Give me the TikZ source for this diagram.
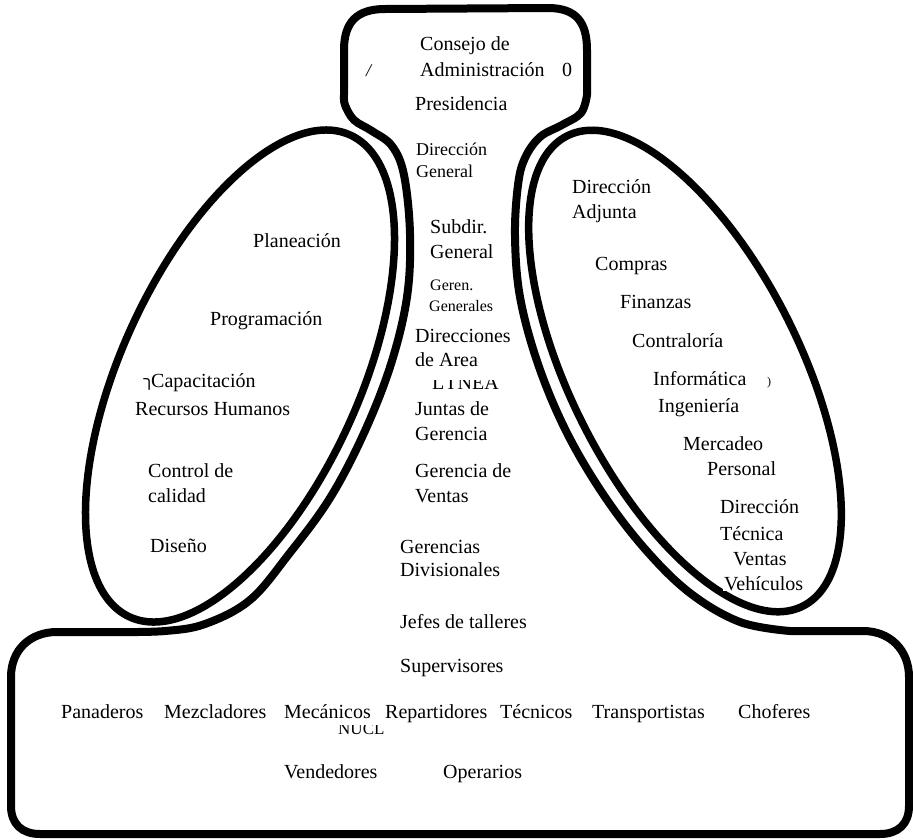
\documentclass[tikz,border=0pt]{standalone}
\usepackage{fontspec}
\setmainfont{Liberation Serif}
\newfontfamily\hebmark{Liberation Sans}
\begin{document}
\begin{tikzpicture}[x=1pt,y=1pt,
  outline/.style={line width=8pt, line join=round, line cap=round},
  lobe/.style={line width=7.5pt},
  lbl/.style={anchor=base west, inner sep=0pt, font=\fontsize{20}{24}\selectfont},
  lblm/.style={lbl, font=\fontsize{18}{22}\selectfont},
  lbls/.style={lbl, font=\fontsize{16}{19}\selectfont}]
\useasboundingbox (0,0) rectangle (913,-839);
\fill[white] (0,0) rectangle (913,-839);

% head + middle line + operating core
\draw[outline]
 (344,-95) -- (344,-50)
 .. controls (344,-22) and (357,-9) .. (385,-9)
 -- (548,-8)
 .. controls (576,-8) and (587,-22) .. (587,-50)
 -- (587,-95)
 -- plot[smooth, tension=0.6] coordinates {(587,-95) (581,-113) (562,-125) (540,-137) (525,-158) (518,-185) (515,-236) (520,-297) (538,-364) (566,-431) (603,-494) (645,-549) (690,-593) (740,-622) (790,-631)}
 -- (863,-631)
 .. controls (890,-631) and (909,-650) .. (909,-677)
 -- (909,-806)
 .. controls (909,-824) and (898,-834) .. (880,-834)
 -- (40,-834)
 .. controls (22,-834) and (11,-824) .. (11,-806)
 -- (11,-677)
 .. controls (11,-650) and (30,-632) .. (57,-632)
 -- (120,-632)
 -- plot[smooth, tension=0.6] coordinates {(120,-632) (165,-631) (205,-624) (250,-600) (289,-554) (330,-498) (364,-433) (391,-364) (407,-297) (410,-234) (404,-175) (392,-146) (372,-131) (354,-120) (345,-105) (344,-95)}
 -- cycle;

% support staff and technostructure
\draw[lobe, rotate around={65.4:(240,-376)}] (240,-376) ellipse [x radius=265, y radius=119];
\draw[lobe, rotate around={-63.4:(685,-371)}] (685,-371) ellipse [x radius=263, y radius=115];

% apex
\node[lbl] (consejo) at (420,-50) {Consejo de};
\node[lbl] (admin) at (420,-76) {Administración};
\node[lbl] (cero) at (562,-76) {0};
\node[lblm] (slash) at (366,-76) {\itshape /};
\node[lbl] (pres) at (415,-110) {Presidencia};

% middle line
\node[lblm] (dirg1) at (416,-155) {Dirección};
\node[lblm] (dirg2) at (416,-177) {General};
\node[lbl] (sub1) at (430,-233) {Subdir.};
\node[lbl] (sub2) at (430,-258) {General};
\node[lbls] (ger1) at (430,-290) {Geren.};
\node[lbls] (ger2) at (429,-311) {Generales};
\node[lbl] (dira1) at (415,-342) {Direcciones};
\node[lbl] (dira2) at (415,-366) {de Area};
\begin{scope}
  \clip (425,-380) rectangle (505,-393);
  \node[lbl] (linea) at (432,-389) {L\,I\,NEA};
\end{scope}
\node[lbl] (jun1) at (415,-415) {Juntas de};
\node[lbl] (jun2) at (415,-440) {Gerencia};
\node[lbl] (gv1) at (415,-477) {Gerencia de};
\node[lbl] (gv2) at (415,-502) {Ventas};
\node[lbl] (gd1) at (400,-553) {Gerencias};
\node[lbl] (gd2) at (400,-576) {Divisionales};
\node[lbl] (jefes) at (400,-628) {Jefes de talleres};
\node[lbl] (sup) at (400,-672) {Supervisores};

% operating core
\node[lbl] (pan) at (61,-718) {Panaderos};
\node[lbl] (mez) at (164,-718) {Mezcladores};
\node[lbl] (mec) at (284,-718) {Mecánicos};
\node[lbl] (rep) at (385,-718) {Repartidores};
\node[lbl] (tec) at (500,-718) {Técnicos};
\node[lbl] (tra) at (592,-718) {Transportistas};
\node[lbl] (cho) at (738,-718) {Choferes};
\begin{scope}
  \clip (330,-725) rectangle (395,-738);
  \node[lbl, font=\fontsize{17}{20}\selectfont] (nucl) at (338,-734) {NUCL};
\end{scope}
\node[lbl] (ven) at (284,-778) {Vendedores};
\node[lbl] (ope) at (443,-778) {Operarios};

% technostructure
\node[lbl] (plan) at (253,-247) {Planeación};
\node[lbl] (prog) at (210,-325) {Programación};
\node[lbl] (cap) at (143,-387) {{\hebmark\fontsize{15}{18}\selectfont ך}Capacitación};
\node[lbl] (rrhh) at (135,-415) {Recursos Humanos};
\node[lbl] (ctrl1) at (148,-477) {Control de};
\node[lbl] (ctrl2) at (148,-502) {calidad};
\node[lbl] (dis) at (150,-552) {Diseño};

% support staff
\node[lbl] (da1) at (572,-193) {Dirección};
\node[lbl] (da2) at (572,-218) {Adjunta};
\node[lbl] (com) at (595,-270) {Compras};
\node[lbl] (fin) at (620,-308) {Finanzas};
\node[lbl] (con) at (632,-347) {Contraloría};
\node[lbl] (inf) at (653,-385) {Informática};
\node[lbl, font=\fontsize{12}{14}\selectfont] (paren) at (767,-385) {)};
\node[lbl] (ing) at (658,-412) {Ingeniería};
\node[lbl] (mer) at (683,-450) {Mercadeo};
\node[lbl] (per) at (707,-475) {Personal};
\node[lbl] (dt1) at (720,-513) {Dirección};
\node[lbl] (dt2) at (720,-540) {Técnica};
\node[lbl] (vts) at (733,-565) {Ventas};
\node[lbl, fill=white, inner sep=1pt] (veh) at (723,-590) {Vehículos};
\end{tikzpicture}
\end{document}
